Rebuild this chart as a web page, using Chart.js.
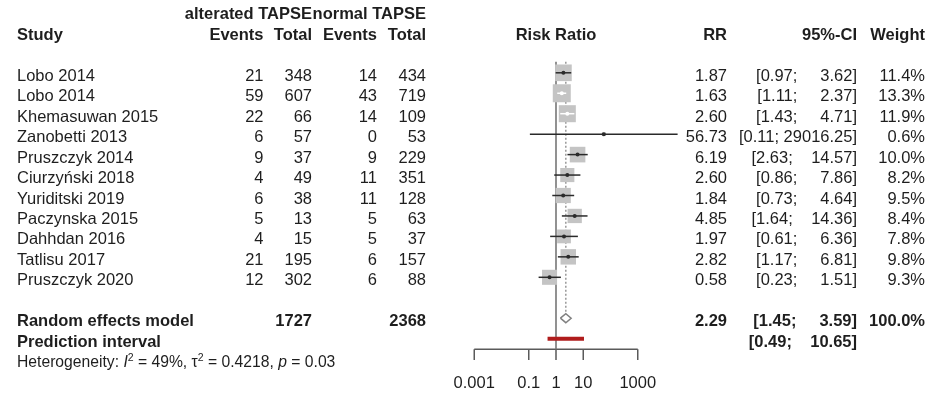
<!DOCTYPE html>
<html>
<head>
<meta charset="utf-8">
<script src="https://cdn.jsdelivr.net/npm/chart.js@4.4.1/dist/chart.umd.min.js"></script>
<style>
  body { margin: 0; background: #fff; }
</style>
</head>
<body>
<canvas id="chart" width="926" height="394"></canvas>
<script>
// study table
const studies = ['Lobo 2014', 'Lobo 2014', 'Khemasuwan 2015', 'Zanobetti 2013', 'Pruszczyk 2014',
    'Ciurzyński 2018', 'Yuriditski 2019', 'Paczynska 2015', 'Dahhdan 2016', 'Tatlisu 2017', 'Pruszczyk 2020'];
const altEvents = [21, 59, 22, 6, 9, 4, 6, 5, 4, 21, 12];
const altTotal = [348, 607, 66, 57, 37, 49, 38, 13, 15, 195, 302];
const normEvents = [14, 43, 14, 0, 9, 11, 11, 5, 5, 6, 6];
const normTotal = [434, 719, 109, 53, 229, 351, 128, 63, 37, 157, 88];
const rr = [1.87, 1.63, 2.60, 56.73, 6.19, 2.60, 1.84, 4.85, 1.97, 2.82, 0.58];
const ciLow = [0.97, 1.11, 1.43, 0.11, 2.63, 0.86, 0.73, 1.64, 0.61, 1.17, 0.23];
const ciHigh = [3.62, 2.37, 4.71, 29016.25, 14.57, 7.86, 4.64, 14.36, 6.36, 6.81, 1.51];
const weights = [11.4, 13.3, 11.9, 0.6, 10.0, 8.2, 9.5, 8.4, 7.8, 9.8, 9.3];

// pooled results
const altTotalSum = 1727;
const normTotalSum = 2368;
const rrRandom = 2.29;
const ciRandom = [1.45, 3.59];
const predInterval = [0.49, 10.65];
const hetI2 = 49;
const hetTau2 = 0.4218;
const hetP = 0.03;

// x axis
const axisTicks = [0.001, 0.1, 1, 10, 1000];
const tickLabels = ['0.001', '0.1', '1', '10', '1000'];

// layout (row units on the y scale)
const rowOf = i => 3 + i;
const RANDOM_ROW = 15, PRED_ROW = 16, HET_ROW = 17;
const LINE_TOP = 2.46, AXIS_ROW = 16.52, TICK_ROW = 17.04, LABEL_ROW = 18;
const DIAMOND_H = 0.22;

const FONT = '"Liberation Sans", Arial, sans-serif';
const TEXT = '#1e1e1e';

function boxSide(w) {
    return 18 * Math.sqrt(w / 13.3);
}

// meta draws the CI line white when it sits fully inside its box
function ciInsideBox(chart, i) {
    const x = chart.scales.x;
    const half = boxSide(weights[i]) / 2;
    const c = x.getPixelForValue(rr[i]);
    return x.getPixelForValue(ciLow[i]) >= c - half + 1 &&
        x.getPixelForValue(ciHigh[i]) <= c + half - 1;
}

function fmt2(v) {
    return v.toFixed(2);
}

function fmtCI(lo, hi) {
    return '[' + fmt2(lo) + '; ' + fmt2(hi).padStart(8, ' ') + ']';
}

const datasets = [];

// reference line at RR = 1
datasets.push({
    data: [{x: 1, y: LINE_TOP}, {x: 1, y: AXIS_ROW}],
    showLine: true, borderColor: '#777777', borderWidth: 1.6, pointRadius: 0, order: 10
});
// dotted line at the pooled estimate
datasets.push({
    data: [{x: rrRandom, y: LINE_TOP}, {x: rrRandom, y: RANDOM_ROW - DIAMOND_H}],
    showLine: true, borderColor: '#999999', borderWidth: 1.5, borderDash: [2, 2], pointRadius: 0, order: 9
});
// weight boxes
datasets.push({
    data: rr.map((v, i) => ({x: v, y: rowOf(i)})),
    pointStyle: 'rect',
    pointRadius: ctx => boxSide(weights[ctx.dataIndex]) / Math.SQRT2,
    backgroundColor: '#c4c4c4', borderWidth: 0, order: 8
});
// confidence intervals
for (let i = 0; i < rr.length; i++) {
    datasets.push({
        data: [{x: ciLow[i], y: rowOf(i)}, {x: ciHigh[i], y: rowOf(i)}],
        showLine: true,
        borderColor: ctx => ciInsideBox(ctx.chart, i) ? '#ffffff' : '#2a2a2a',
        borderWidth: 1.5, pointRadius: 0, order: 7
    });
}
// point estimates
datasets.push({
    data: rr.map((v, i) => ({x: v, y: rowOf(i)})),
    pointRadius: 2,
    backgroundColor: ctx => ciInsideBox(ctx.chart, ctx.dataIndex) ? '#ffffff' : '#2a2a2a',
    borderWidth: 0, order: 6
});
// random effects diamond
datasets.push({
    data: [
        {x: ciRandom[0], y: RANDOM_ROW},
        {x: rrRandom, y: RANDOM_ROW - DIAMOND_H},
        {x: ciRandom[1], y: RANDOM_ROW},
        {x: rrRandom, y: RANDOM_ROW + DIAMOND_H},
        {x: ciRandom[0], y: RANDOM_ROW}
    ],
    showLine: true, borderColor: '#808080', borderWidth: 1.5, fill: false, pointRadius: 0, order: 5
});
// prediction interval
datasets.push({
    data: [{x: predInterval[0], y: PRED_ROW}, {x: predInterval[1], y: PRED_ROW}],
    showLine: true, borderColor: '#b01c1c', borderWidth: 4, borderCapStyle: 'butt', pointRadius: 0, order: 5
});

const tablePlugin = {
    id: 'forestTable',
    beforeDatasetsDraw(chart) {
        const ctx = chart.ctx;
        const x = chart.scales.x, y = chart.scales.y;
        ctx.save();
        ctx.strokeStyle = '#5a5a5a';
        ctx.lineWidth = 1.5;
        ctx.beginPath();
        ctx.moveTo(x.getPixelForValue(axisTicks[0]), y.getPixelForValue(AXIS_ROW));
        ctx.lineTo(x.getPixelForValue(axisTicks[axisTicks.length - 1]), y.getPixelForValue(AXIS_ROW));
        for (const t of axisTicks) {
            ctx.moveTo(x.getPixelForValue(t), y.getPixelForValue(AXIS_ROW));
            ctx.lineTo(x.getPixelForValue(t), y.getPixelForValue(TICK_ROW));
        }
        ctx.stroke();
        ctx.restore();
    },
    afterDatasetsDraw(chart) {
        const ctx = chart.ctx;
        const x = chart.scales.x, y = chart.scales.y;
        const base = r => y.getPixelForValue(r) + 8;
        const reg = '16.5px ' + FONT;
        const bold = 'bold 16.5px ' + FONT;
        const small = 15.7;
        const col = {study: 17, altEvents: 263.5, altTotal: 312, normEvents: 377, normTotal: 426,
            rr: 727, ci: 857, weight: 925};

        function put(str, px, r, align, font) {
            ctx.font = font;
            ctx.textAlign = align;
            ctx.fillText(str, px, base(r));
        }

        ctx.save();
        ctx.fillStyle = TEXT;
        ctx.textBaseline = 'alphabetic';

        // headers
        put('alterated TAPSE', col.altTotal, 0, 'right', bold);
        put('normal TAPSE', col.normTotal, 0, 'right', bold);
        put('Study', col.study, 1, 'left', bold);
        put('Events', col.altEvents, 1, 'right', bold);
        put('Total', col.altTotal, 1, 'right', bold);
        put('Events', col.normEvents, 1, 'right', bold);
        put('Total', col.normTotal, 1, 'right', bold);
        put('Risk Ratio', x.getPixelForValue(1), 1, 'center', bold);
        put('RR', col.rr, 1, 'right', bold);
        put('95%-CI', col.ci, 1, 'right', bold);
        put('Weight', col.weight, 1, 'right', bold);

        // studies
        for (let i = 0; i < studies.length; i++) {
            const r = rowOf(i);
            put(studies[i], col.study, r, 'left', reg);
            put(String(altEvents[i]), col.altEvents, r, 'right', reg);
            put(String(altTotal[i]), col.altTotal, r, 'right', reg);
            put(String(normEvents[i]), col.normEvents, r, 'right', reg);
            put(String(normTotal[i]), col.normTotal, r, 'right', reg);
            put(fmt2(rr[i]), col.rr, r, 'right', reg);
            put(fmtCI(ciLow[i], ciHigh[i]), col.ci, r, 'right', reg);
            put(weights[i].toFixed(1) + '%', col.weight, r, 'right', reg);
        }

        // pooled
        put('Random effects model', col.study, RANDOM_ROW, 'left', bold);
        put(String(altTotalSum), col.altTotal, RANDOM_ROW, 'right', bold);
        put(String(normTotalSum), col.normTotal, RANDOM_ROW, 'right', bold);
        put(fmt2(rrRandom), col.rr, RANDOM_ROW, 'right', bold);
        put(fmtCI(ciRandom[0], ciRandom[1]), col.ci, RANDOM_ROW, 'right', bold);
        put('100.0%', col.weight, RANDOM_ROW, 'right', bold);
        put('Prediction interval', col.study, PRED_ROW, 'left', bold);
        put(fmtCI(predInterval[0], predInterval[1]), col.ci, PRED_ROW, 'right', bold);

        // heterogeneity
        const pieces = [
            ['Heterogeneity: ', small + 'px ' + FONT, 0],
            ['I', 'italic ' + small + 'px ' + FONT, 0],
            ['2', '10.5px ' + FONT, -6],
            [' = ' + hetI2 + '%, ', small + 'px ' + FONT, 0],
            ['\u03c4', small + 'px ' + FONT, 0],
            ['2', '10.5px ' + FONT, -6],
            [' = ' + hetTau2 + ', ', small + 'px ' + FONT, 0],
            ['p', 'italic ' + small + 'px ' + FONT, 0],
            [' = ' + hetP, small + 'px ' + FONT, 0]
        ];
        let hx = col.study;
        ctx.textAlign = 'left';
        for (const [s, f, dy] of pieces) {
            ctx.font = f;
            ctx.fillText(s, hx, base(HET_ROW) + dy);
            hx += ctx.measureText(s).width;
        }

        // tick labels
        ctx.font = reg;
        ctx.textAlign = 'center';
        for (let i = 0; i < axisTicks.length; i++) {
            ctx.fillText(tickLabels[i], x.getPixelForValue(axisTicks[i]), base(LABEL_ROW));
        }
        ctx.restore();
    }
};

// 27.25 px per decade, RR = 1 at x = 556; rows 20.45 px apart
const PX_DECADE = 27.25, X_ONE = 556, CANVAS_W = 926, CANVAS_H = 394;
const ROW_PX = 20.45, ROW0 = 11.45;

new Chart(document.getElementById('chart').getContext('2d'), {
    type: 'scatter',
    data: {datasets: datasets},
    options: {
        responsive: false,
        animation: false,
        events: [],
        layout: {padding: 0, autoPadding: false},
        plugins: {legend: {display: false}, tooltip: {enabled: false}},
        scales: {
            x: {
                type: 'logarithmic',
                display: false,
                bounds: 'data',
                min: Math.pow(10, -X_ONE / PX_DECADE),
                max: Math.pow(10, (CANVAS_W - X_ONE) / PX_DECADE)
            },
            y: {
                type: 'linear',
                display: false,
                reverse: true,
                min: -ROW0 / ROW_PX,
                max: (CANVAS_H - ROW0) / ROW_PX
            }
        }
    },
    plugins: [tablePlugin]
});
</script>
</body>
</html>
